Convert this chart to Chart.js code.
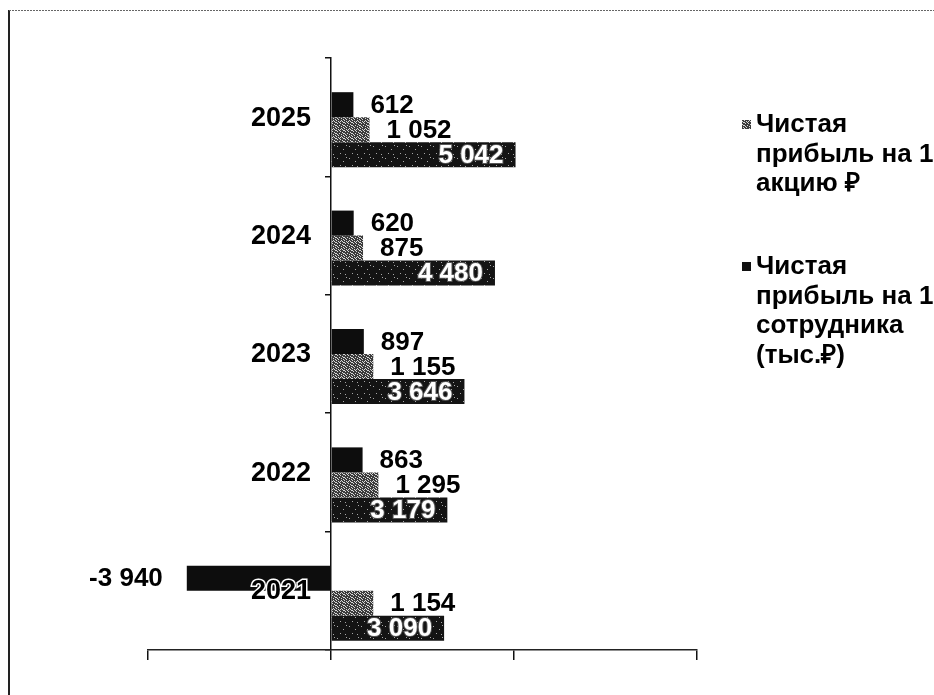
<!DOCTYPE html>
<html>
<head>
<meta charset="utf-8">
<script src="https://cdn.jsdelivr.net/npm/chart.js@4.4.1/dist/chart.umd.min.js"></script>
<style>
  body { margin: 0; background: #fff; }
</style>
</head>
<body>
<canvas id="chart" width="934" height="695"></canvas>
<script>
var years = ['2025', '2024', '2023', '2022', '2021'];
var perEmployee = [612, 620, 897, 863, -3940];      // тыс.₽ на сотрудника
var perShare = [1052, 875, 1155, 1295, 1154];        // ₽ на акцию
var thirdSeries = [5042, 4480, 3646, 3179, 3090];    // series without legend entry
var emptySlot = [null, null, null, null, null];      // empty series that shifts the groups down
var xTicks = [-5000, 0, 5000, 10000];

var legendLines = [
  ['Чистая', 'прибыль на 1', 'акцию ₽'],
  ['Чистая', 'прибыль на 1', 'сотрудника', '(тыс.₽)']
];

var FONT = '"Liberation Sans", Arial, sans-serif';

function speckle(size, base, dot, dots) {
  var c = document.createElement('canvas');
  c.width = c.height = size;
  var g = c.getContext('2d');
  g.fillStyle = base;
  g.fillRect(0, 0, size, size);
  g.fillStyle = dot;
  dots.forEach(function (p) { g.fillRect(p[0], p[1], 1, 1); });
  return g.createPattern(c, 'repeat');
}

var patGray = speckle(8, '#3c3c3c', '#d8d8d8',
  [[0,0],[2,1],[5,0],[7,2],[1,3],[4,3],[6,4],[0,5],[3,5],[5,6],[2,7],[7,7],[4,1],[1,6],[6,1],[3,2],[7,5],[0,2]]);
var patDark = speckle(12, '#141414', '#a8a8a8',
  [[1,2],[7,5],[4,9],[10,1],[9,10]]);

function fmt(v) {
  var s = String(Math.abs(v)).replace(/\B(?=(\d{3})+(?!\d))/g, ' ');
  return (v < 0 ? '-' : '') + s;
}

var valueLabels = {
  id: 'valueLabels',
  afterDatasetsDraw: function (chart) {
    var ctx = chart.ctx;
    ctx.save();
    ctx.font = 'bold 26px ' + FONT;
    ctx.textBaseline = 'middle';
    chart.data.datasets.forEach(function (ds, i) {
      if (!ds.labelMode) return;
      chart.getDatasetMeta(i).data.forEach(function (bar, j) {
        var v = ds.data[j];
        if (v === null) return;
        var txt = fmt(v);
        if (ds.labelMode === 'inside') {
          ctx.textAlign = 'right';
          ctx.lineWidth = 2;
          ctx.strokeStyle = '#555';
          ctx.strokeText(txt, bar.x - 12, bar.y + 1);
          ctx.fillStyle = '#fff';
          ctx.fillText(txt, bar.x - 12, bar.y + 1);
        } else {
          ctx.fillStyle = '#000';
          if (v < 0) {
            ctx.textAlign = 'right';
            ctx.fillText(txt, bar.x - 24, bar.y + 1);
          } else {
            ctx.textAlign = 'left';
            ctx.fillText(txt, bar.x + 17, bar.y + 1);
          }
        }
      });
    });

    // category labels sit left of the zero line
    var xs = chart.scales.x, ys = chart.scales.y;
    var x0 = xs.getPixelForValue(0);
    ctx.font = 'bold 27px ' + FONT;
    ctx.textAlign = 'right';
    ctx.lineWidth = 3;
    ctx.strokeStyle = '#fff';
    ctx.fillStyle = '#000';
    years.forEach(function (y, k) {
      var py = ys.getPixelForValue(k) + 1;
      ctx.strokeText(y, x0 - 20, py);
      ctx.fillText(y, x0 - 20, py);
    });
    ctx.restore();
  }
};

var frameAndLegend = {
  id: 'frameAndLegend',
  beforeDraw: function (chart) {
    var ctx = chart.ctx;
    ctx.save();
    ctx.fillStyle = '#fff';
    ctx.fillRect(0, 0, chart.width, chart.height);
    ctx.strokeStyle = '#222';
    ctx.lineWidth = 2;
    ctx.beginPath();
    ctx.moveTo(9, 10);
    ctx.lineTo(9, chart.height);
    ctx.stroke();
    ctx.strokeStyle = '#666';
    ctx.lineWidth = 1;
    ctx.setLineDash([2, 1]);
    ctx.beginPath();
    ctx.moveTo(9, 10.5);
    ctx.lineTo(chart.width, 10.5);
    ctx.stroke();
    ctx.restore();
  },
  afterDraw: function (chart) {
    var ctx = chart.ctx;
    var area = chart.chartArea;
    var x0 = area.right + 45;
    var tops = [124, 266];
    var fills = [patGray, '#111'];
    ctx.save();
    ctx.font = 'bold 26px ' + FONT;
    ctx.textBaseline = 'middle';
    ctx.textAlign = 'left';
    legendLines.forEach(function (lines, k) {
      ctx.fillStyle = fills[k];
      ctx.fillRect(x0, tops[k] - 4, 9, 9);
      ctx.fillStyle = '#000';
      lines.forEach(function (t, n) {
        ctx.fillText(t, x0 + 14, tops[k] + 1 + n * 29.5);
      });
    });
    ctx.restore();
  }
};

new Chart(document.getElementById('chart').getContext('2d'), {
  type: 'bar',
  data: {
    labels: years,
    datasets: [
      { label: '', data: emptySlot, backgroundColor: 'rgba(0,0,0,0)' },
      { label: 'Чистая прибыль на 1 сотрудника (тыс.₽)', data: perEmployee, backgroundColor: '#0d0d0d', labelMode: 'outside' },
      { label: 'Чистая прибыль на 1 акцию ₽', data: perShare, backgroundColor: patGray, labelMode: 'outside' },
      { label: '', data: thirdSeries, backgroundColor: patDark, labelMode: 'inside' }
    ]
  },
  options: {
    indexAxis: 'y',
    responsive: false,
    animation: false,
    categoryPercentage: 0.845,
    barPercentage: 1,
    layout: { padding: { left: 148, top: 58, right: 237, bottom: 35 } },
    plugins: {
      legend: { display: false },
      tooltip: { enabled: false }
    },
    scales: {
      x: {
        min: xTicks[0],
        max: xTicks[xTicks.length - 1],
        afterBuildTicks: function (scale) {
          scale.ticks = xTicks.map(function (v) { return { value: v }; });
        },
        ticks: { display: false },
        grid: { drawOnChartArea: false, tickLength: 10, color: '#111', lineWidth: 1.5 },
        border: { color: '#222', width: 1.5 }
      },
      y: {
        position: { x: 0 },
        z: 1,
        ticks: { display: false },
        grid: { drawOnChartArea: false, tickLength: 5, color: '#111', lineWidth: 1.5, offset: true },
        border: { color: '#111', width: 1.5 }
      }
    }
  },
  plugins: [frameAndLegend, valueLabels]
});
</script>
</body>
</html>
